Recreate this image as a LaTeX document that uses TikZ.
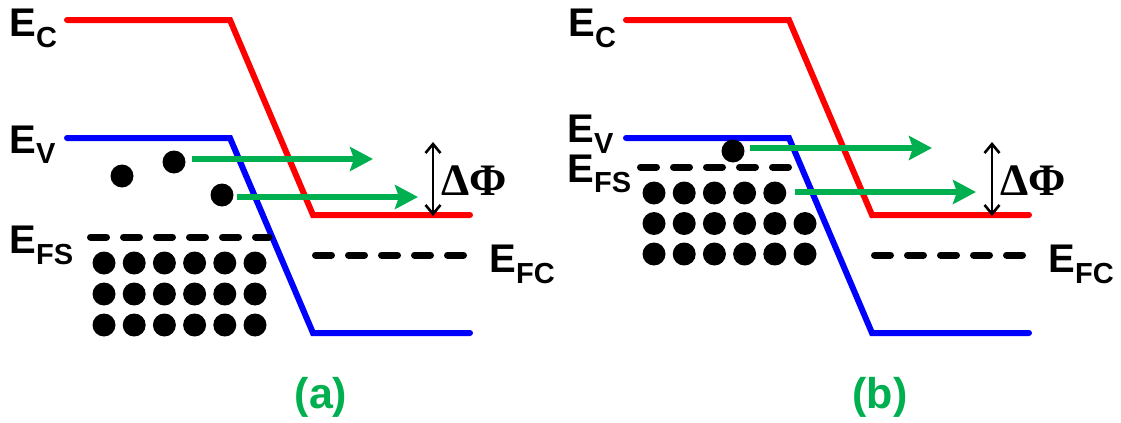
\documentclass[tikz,border=0pt]{standalone}
\usepackage{fontspec}
\newfontfamily\lblfont{Liberation Sans}
\newfontfamily\greekfont{Liberation Serif}
\usepackage{tikz}
\usetikzlibrary{positioning, arrows.meta}
\usepackage{xcolor}
\definecolor{emitgreen}{RGB}{0,176,80}
\newcommand{\bandlbl}[1]{E\raisebox{-5.5pt}{\fontsize{14.5pt}{14.5pt}\selectfont #1}}

\begin{document}
\begin{tikzpicture}[x=0.5pt, y=-0.5pt,
    band/.style={line width=3pt, line cap=round},
    fermi/.style={line width=3.5pt, line cap=round, dash pattern=on 8pt off 8.5pt},
    emit/.style={emitgreen, line width=3pt, -{Stealth[length=11.5pt, width=12pt, inset=2pt]}},
    gapline/.style={line width=1.3pt, {Straight Barb[length=4.5pt, width=7.5pt]}-{Straight Barb[length=4.5pt, width=7.5pt]}},
    carrier/.style={circle, fill=black, inner sep=0pt, minimum size=11.5pt},
    lvl/.style={font=\lblfont\bfseries\fontsize{20pt}{20pt}\selectfont, inner sep=0pt, anchor=base west},
    barrier/.style={font=\greekfont\bfseries\fontsize{22.5pt}{22.5pt}\selectfont, inner sep=0pt, anchor=base west},
    tag/.style={font=\lblfont\bfseries\fontsize{21.5pt}{21.5pt}\selectfont, emitgreen, inner sep=0pt}]
    \useasboundingbox (0,0) rectangle (1121,423);

    % parts shared by both panels
    \foreach \dx/\name in {0/a, 559/b} {
    \begin{scope}[shift={(\dx,0)}]
        % conduction and valence band edges
        \draw[band, red] (67,20) -- (230,20) -- (313,215) -- (470,215);
        \draw[band, blue] (67,138) -- (230,138) -- (313,333) -- (470,333);
        % Fermi level on the right
        \draw[fermi] (315.5,255) -- (464.5,255);
        \node[lvl] (ec\name) at (9,37) {\bandlbl{C}};
        \node[lvl] (efc\name) at (489,272) {\bandlbl{FC}};
        % barrier height
        \coordinate (gtop\name) at (433,142);
        \coordinate (gbot\name) at (433,216);
        \draw[gapline] (gtop\name) -- (gbot\name);
        \node[barrier] (dphi\name) at (441,195) {ΔΦ};
        \node[tag] (tag\name) at (321,397) {(\name)};
    \end{scope}
    }

    % panel (a): Fermi level below the valence band edge
    \node[lvl] (eva) at (9,153) {\bandlbl{V}};
    \node[lvl] (efsa) at (9,253) {\bandlbl{FS}};
    \draw[fermi] (90.5,237) -- (269,237);
    \foreach \i in {0,...,5}
        \foreach \j in {0,1,2}
            \node[carrier] (sa-\i-\j) at (104+30.2*\i, 263+31*\j) {};
    \node[carrier] (ha1) at (122,176) {};
    \node[carrier] (ha2) at (174,162) {};
    \node[carrier] (ha3) at (222,195) {};
    \coordinate (a1s) at (192,159);
    \coordinate (a1e) at (373,159);
    \coordinate (a2s) at (237,197);
    \coordinate (a2e) at (418,197);
    \draw[emit] (a1s) -- (a1e);
    \draw[emit] (a2s) -- (a2e);

    % panel (b): Fermi level close to the valence band edge
    \node[lvl] (evb) at (567,142) {\bandlbl{V}};
    \node[lvl] (efsb) at (567,182) {\bandlbl{FS}};
    \draw[fermi] (640.5,167) -- (788.5,167);
    \foreach \i in {0,...,5}
        \foreach \j in {1,2}
            \node[carrier] (sb-\i-\j) at (654+30.2*\i, 193+30.5*\j) {};
    \foreach \i in {0,...,4}
        \node[carrier] (sb-\i-0) at (654+30.2*\i, 193) {};
    \node[carrier] (hb1) at (733,151) {};
    \coordinate (b1s) at (750,148);
    \coordinate (b1e) at (932,148);
    \coordinate (b2s) at (795,192);
    \coordinate (b2e) at (976,192);
    \draw[emit] (b1s) -- (b1e);
    \draw[emit] (b2s) -- (b2e);
\end{tikzpicture}
\end{document}
